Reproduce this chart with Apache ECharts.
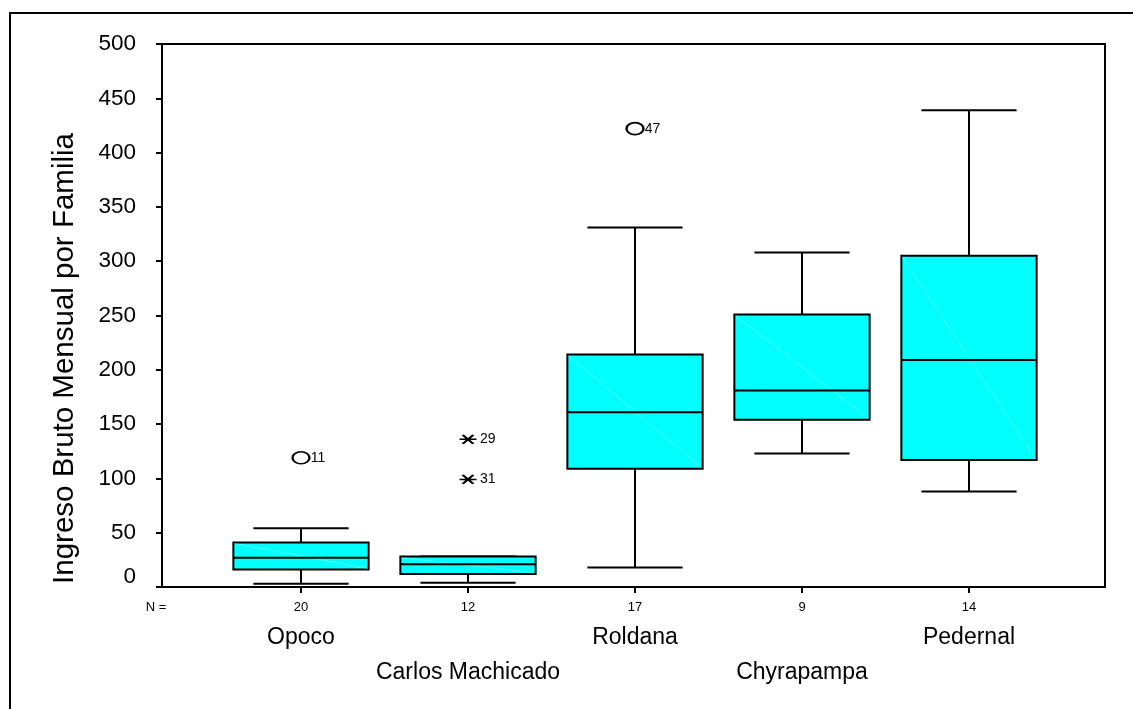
<!DOCTYPE html>
<html>
<head>
<meta charset="utf-8">
<script src="https://cdn.jsdelivr.net/npm/echarts@6/dist/echarts.min.js"></script>
<style>
html,body{margin:0;padding:0;background:#fff;}
#chart{width:1133px;height:709px;}
</style>
</head>
<body>
<div id="chart"></div>
<script>
// ---- data ----
const categories = ['Opoco', 'Carlos Machicado', 'Roldana', 'Chyrapampa', 'Pedernal'];
const counts = ['20', '12', '17', '9', '14'];
const boxMin    = [3,   4,   18,  123, 88];
const boxQ1     = [16,  12,  109, 154, 117];
const boxMedian = [27,  21,  161, 181, 209];
const boxQ3     = [41,  28,  214, 251, 305];
const boxMax    = [54,  28,  331, 308, 439];
// outliers (circle) and extremes (asterisk): [category index, value, case id]
const outliers = [[0, 119, '11'], [2, 422, '47']];
const extremes = [[1, 136, '29'], [1, 99, '31']];
const yTicks = { min: 0, max: 500, interval: 50 };

const FONT = '"Liberation Sans", Arial, sans-serif';
const boxData = categories.map((c, i) => [i, boxMin[i], boxQ1[i], boxMedian[i], boxQ3[i], boxMax[i]]);

const chart = echarts.init(document.getElementById('chart'), null, { renderer: 'canvas' });

function renderBox(params, api) {
  const x = api.value(0);
  const pMin = api.coord([x, api.value(1)]);
  const pQ1 = api.coord([x, api.value(2)]);
  const pMed = api.coord([x, api.value(3)]);
  const pQ3 = api.coord([x, api.value(4)]);
  const pMax = api.coord([x, api.value(5)]);
  const band = api.size([1, 0])[0];
  const bw = band * 0.81, cw = band * 0.57;
  const cx = pMed[0];
  const ls = { stroke: '#000', lineWidth: 2 };
  return {
    type: 'group',
    children: [
      { type: 'line', shape: { x1: cx, y1: pMax[1], x2: cx, y2: pQ3[1] }, style: ls },
      { type: 'line', shape: { x1: cx, y1: pQ1[1], x2: cx, y2: pMin[1] }, style: ls },
      { type: 'line', shape: { x1: cx - cw / 2, y1: pMax[1], x2: cx + cw / 2, y2: pMax[1] }, style: ls },
      { type: 'line', shape: { x1: cx - cw / 2, y1: pMin[1], x2: cx + cw / 2, y2: pMin[1] }, style: ls },
      { type: 'rect', shape: { x: cx - bw / 2, y: pQ3[1], width: bw, height: pQ1[1] - pQ3[1] },
        style: { fill: '#00ffff', stroke: '#000', lineWidth: 2 } },
      { type: 'line', shape: { x1: cx - bw / 2 + 1, y1: pQ3[1] + 1, x2: cx + bw / 2 - 1, y2: pQ1[1] - 1 },
        style: { stroke: 'rgba(255,255,255,0.3)', lineWidth: 1 } },
      { type: 'line', shape: { x1: cx - bw / 2, y1: pMed[1], x2: cx + bw / 2, y2: pMed[1] }, style: ls }
    ]
  };
}

const option = {
  backgroundColor: '#fff',
  animation: false,
  graphic: [
    { type: 'rect', shape: { x: 10, y: 13, width: 1300, height: 900 },
      style: { fill: 'none', stroke: '#000', lineWidth: 2 }, silent: true }
  ],
  grid: [
    { left: 162, right: 28, top: 44, bottom: 122, show: true, borderColor: '#000', borderWidth: 2, containLabel: false },
    { left: 217.5, right: 80.5, top: 44, bottom: 122, containLabel: false }
  ],
  xAxis: [
    { type: 'value', gridIndex: 0, min: 0, max: 1, interval: 1, position: 'bottom',
      axisLine: { show: true, lineStyle: { color: '#000', width: 2 } },
      axisTick: { show: false }, splitLine: { show: false },
      axisLabel: { show: true, showMaxLabel: false, margin: 14, fontSize: 13, fontFamily: FONT, color: '#000',
        padding: [0, 12, 0, 0],
        formatter: v => (v === 0 ? 'N =' : '') } },
    { type: 'category', gridIndex: 1, data: categories, position: 'bottom',
      axisLine: { show: false },
      axisTick: { show: true, alignWithLabel: true, length: 6, lineStyle: { color: '#000', width: 2 } },
      axisLabel: { interval: 0, margin: 14, fontSize: 13, fontFamily: FONT, color: '#000',
        formatter: (v, i) => counts[i] } },
    { type: 'category', gridIndex: 1, data: categories, position: 'bottom',
      axisLine: { show: false }, axisTick: { show: false },
      axisLabel: { interval: 0, margin: 39, fontSize: 23, fontFamily: FONT, color: '#000',
        formatter: (v, i) => (i % 2 === 0 ? v : '') } },
    { type: 'category', gridIndex: 1, data: categories, position: 'bottom',
      axisLine: { show: false }, axisTick: { show: false },
      axisLabel: { interval: 0, margin: 74, fontSize: 23, fontFamily: FONT, color: '#000',
        formatter: (v, i) => (i % 2 === 1 ? v : '') } }
  ],
  yAxis: [
    { type: 'value', gridIndex: 0, min: yTicks.min, max: yTicks.max, interval: yTicks.interval,
      name: 'Ingreso Bruto Mensual por Familia', nameLocation: 'middle', nameGap: 82,
      nameTextStyle: { fontSize: 29.5, fontFamily: FONT, color: '#000', padding: [0, 86, 0, 0] },
      axisLine: { show: true, lineStyle: { color: '#000', width: 2 } },
      axisTick: { show: true, length: 6, lineStyle: { color: '#000', width: 2 } },
      splitLine: { show: false },
      axisLabel: { margin: 26, fontSize: 22.5, fontFamily: FONT, color: '#000',
        formatter: v => (v === 0 ? '{z|0}' : String(v)),
        rich: { z: { fontSize: 22.5, fontFamily: FONT, color: '#000', padding: [0, 0, 20, 0] } } } },
    { type: 'value', gridIndex: 1, min: yTicks.min, max: yTicks.max, interval: yTicks.interval, show: false }
  ],
  series: [
    { type: 'custom', xAxisIndex: 1, yAxisIndex: 1, data: boxData, renderItem: renderBox, z: 3,
      encode: { x: 0, y: [1, 2, 3, 4, 5] } },
    { type: 'scatter', xAxisIndex: 1, yAxisIndex: 1, data: outliers, z: 4,
      symbol: 'circle', symbolSize: [17, 12],
      itemStyle: { color: '#fff', borderColor: '#000', borderWidth: 2, opacity: 1 },
      label: { show: true, position: 'right', distance: 0, fontSize: 14, fontFamily: FONT, color: '#000',
        formatter: p => p.data[2] } },
    { type: 'scatter', xAxisIndex: 1, yAxisIndex: 1, data: extremes, z: 4,
      symbol: 'path://M0,4 L16,4 M3,0 L13,8 M13,0 L3,8', symbolSize: [17, 9], symbolKeepAspect: false,
      itemStyle: { color: 'none', borderColor: '#000', borderWidth: 2, opacity: 1 },
      label: { show: true, position: 'right', distance: 0, fontSize: 14, fontFamily: FONT, color: '#000',
        formatter: p => p.data[2] } }
  ]
};
chart.setOption(option);
</script>
</body>
</html>
